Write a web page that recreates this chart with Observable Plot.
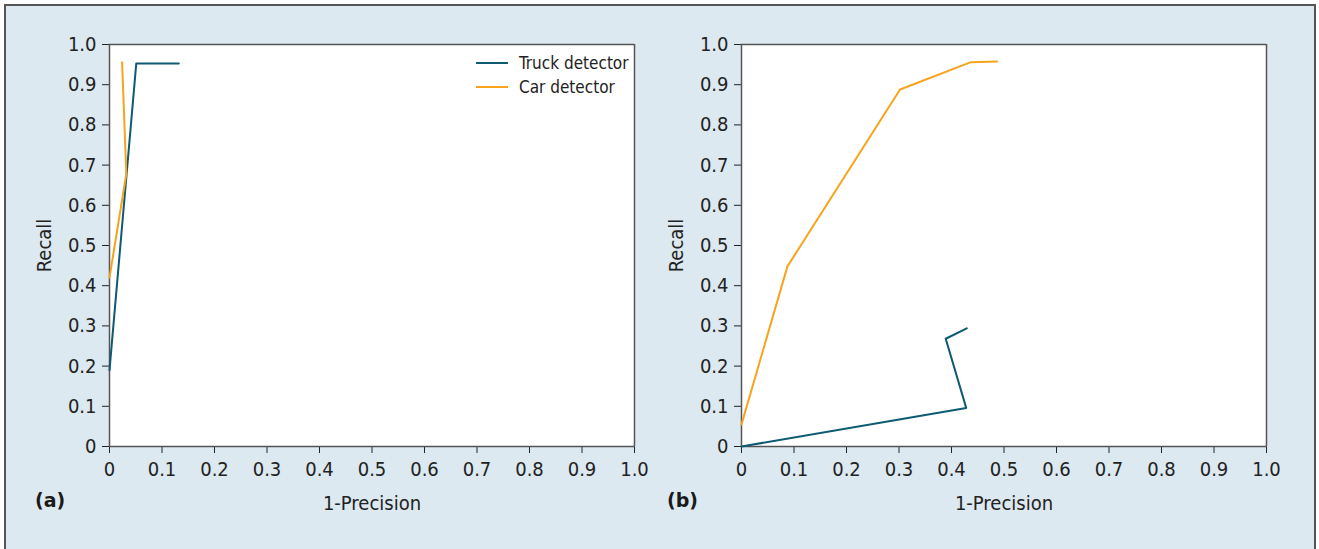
<!DOCTYPE html>
<html>
<head>
<meta charset="utf-8">
<script src="https://cdn.jsdelivr.net/npm/d3@7"></script>
<script src="https://cdn.jsdelivr.net/npm/@observablehq/plot@0.6"></script>
<style>
  html, body { margin: 0; padding: 0; background: #ffffff; }
  #page { position: absolute; left: 4px; top: 4px; width: 1312px; height: 560px;
          background: #dde9f0; border-left: 2px solid #555; border-top: 2px solid #555; border-right: 2px solid #555; box-sizing: border-box; }
  .panel { position: absolute; top: -6px; }
  .tag { position: absolute; font-family: "DejaVu Sans", sans-serif; font-weight: bold; font-size: 19px; color: #1a1a1a; }
  #legend { position: absolute; left: 470px; top: 45px; font-family: "Liberation Sans Narrow", "DejaVu Sans Condensed", sans-serif; font-size: 17px; color: #222; line-height: 24px; }
  #legend div { display: flex; align-items: center; }
  #legend svg { margin-right: 11px; }
</style>
</head>
<body>
<div id="page">
  <div id="pa" class="panel" style="left:-6px"></div>
  <div id="pb" class="panel" style="left:626px"></div>
  <div class="tag" style="left:29px; top:483px">(a)</div>
  <div class="tag" style="left:661px; top:483px">(b)</div>
  <div id="legend"></div>
</div>
<script>
// ---- data ----
const seriesNames = ["Truck detector", "Car detector"];
const seriesColors = ["#0e5a72", "#f7a31c"];

const truckA_x = [0, 0.051, 0.132];
const truckA_y = [0.19, 0.953, 0.953];
const carA_x = [0, 0.032, 0.024];
const carA_y = [0.42, 0.678, 0.956];

const truckB_x = [0, 0.428, 0.389, 0.429];
const truckB_y = [0, 0.096, 0.268, 0.294];
const carB_x = [0, 0.0875, 0.302, 0.437, 0.487];
const carB_y = [0.055, 0.448, 0.888, 0.956, 0.958];

const tickValues = [0, 0.1, 0.2, 0.3, 0.4, 0.5, 0.6, 0.7, 0.8, 0.9, 1.0];
const tickLabels = ["0", "0.1", "0.2", "0.3", "0.4", "0.5", "0.6", "0.7", "0.8", "0.9", "1.0"];
const xLabel = "1-Precision";
const yLabel = "Recall";

function rows(xs, ys) { return xs.map((x, i) => ({x, y: ys[i]})); }

const FONT = '"Liberation Sans Narrow", "DejaVu Sans Condensed", sans-serif';

function panel(truck, car) {
  const fmt = d => tickLabels[tickValues.findIndex(t => Math.abs(t - d) < 1e-9)];
  return Plot.plot({
    width: 660, height: 540,
    marginLeft: 109, marginRight: 26, marginTop: 44, marginBottom: 94,
    style: { background: "transparent", fontFamily: FONT, fontSize: "20px", color: "#222" },
    x: { domain: [0, 1], ticks: tickValues, tickFormat: fmt, tickSize: 7, tickPadding: 8,
         label: xLabel, labelAnchor: "center", labelOffset: 63, labelArrow: "none" },
    y: { domain: [0, 1], ticks: tickValues, tickFormat: fmt, tickSize: 7, tickPadding: 6,
         label: yLabel, labelAnchor: "center", labelOffset: 73, labelArrow: "none" },
    marks: [
      Plot.frame({ fill: "white", stroke: "none" }),
      Plot.ruleY([1], { stroke: "#555", strokeWidth: 1.5 }),
      Plot.ruleX([1], { stroke: "#555", strokeWidth: 1.5 }),
      Plot.ruleY([0], { stroke: "#555", strokeWidth: 1.5 }),
      Plot.ruleX([0], { stroke: "#555", strokeWidth: 1.5 }),
      Plot.line(truck, { x: "x", y: "y", stroke: seriesColors[0], strokeWidth: 2, curve: "linear" }),
      Plot.line(car, { x: "x", y: "y", stroke: seriesColors[1], strokeWidth: 2, curve: "linear" })
    ]
  });
}

document.getElementById("pa").appendChild(panel(rows(truckA_x, truckA_y), rows(carA_x, carA_y)));
document.getElementById("pb").appendChild(panel(rows(truckB_x, truckB_y), rows(carB_x, carB_y)));

const leg = document.getElementById("legend");
seriesNames.forEach((name, i) => {
  const row = document.createElement("div");
  row.innerHTML = `<svg width="32" height="4"><line x1="0" y1="2" x2="32" y2="2" stroke="${seriesColors[i]}" stroke-width="2"/></svg><span>${name}</span>`;
  leg.appendChild(row);
});
</script>
</body>
</html>
